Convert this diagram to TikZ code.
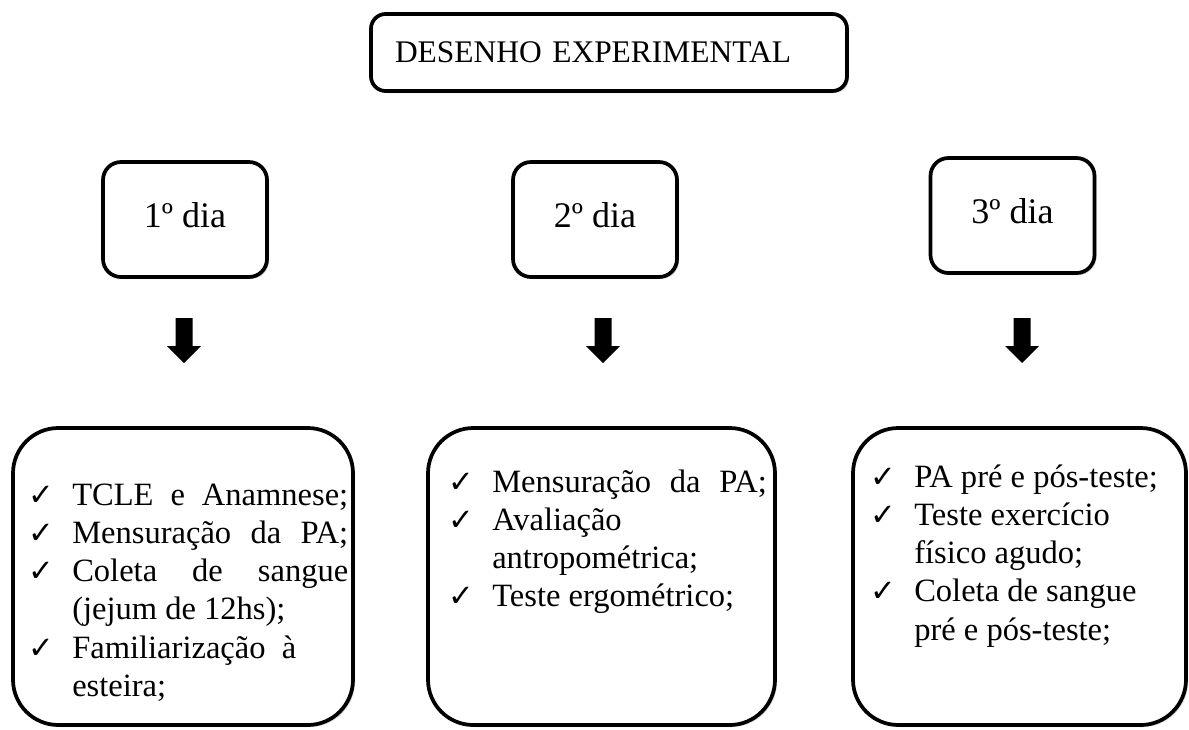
\documentclass[tikz,border=0pt]{standalone}
\usepackage{fontspec}
\setmainfont{Liberation Serif}
\newfontfamily\chkfont{DejaVu Sans}
\usetikzlibrary{shadows}
\newcommand{\chkmk}{\makebox[33pt][l]{\chkfont\fontsize{23}{23}\selectfont ✓}}
\newcommand{\itm}[1]{\chkmk#1}
\newcommand{\cnt}[1]{\hspace*{33pt}#1}
\newcommand{\strch}[2]{\makebox[#1][s]{#2}}
\tikzset{
  boxbase/.style={draw=black, line width=2.8pt, fill=white,
    drop shadow={shadow xshift=1.5pt, shadow yshift=-1.5pt, fill=black!35, opacity=0.45}},
  titlebox/.style={boxbase, rounded corners=11pt, minimum height=57.75pt,
    text width=321pt, inner xsep=18pt, align=left,
    font=\fontsize{23.6}{28}\selectfont},
  daybox/.style={boxbase, rounded corners=13.5pt, minimum width=123pt, minimum height=86.25pt,
    text height=20pt, text depth=8.5pt, font=\fontsize{27}{32}\selectfont},
  bigbox/.style={boxbase, rounded corners=34pt, minimum height=222.75pt},
  listtxt/.style={inner sep=0pt, anchor=base west, font=\fontsize{24.4}{28.7}\selectfont},
  fatarrow/.style={fill=black}
}
\begin{document}
\begin{tikzpicture}[x=0.75pt,y=-0.75pt]
\useasboundingbox (0,0) rectangle (1189,729);
% title
\node[titlebox] (title) at (609,52.5) {DESENHO EXPERIMENTAL};
% day boxes
\node[daybox] (d1) at (185,219.5) {1º dia};
\node[daybox] (d2) at (595,219.5) {2º dia};
\node[daybox] (d3) at (1012.5,215.5) {3º dia};
% big boxes
\node[bigbox, minimum width=255pt] (b1) at (183,576.5) {};
\node[bigbox, minimum width=260.25pt] (b2) at (601.5,576.5) {};
\node[bigbox, minimum width=249.75pt] (b3) at (1019.5,576.5) {};
% lists
\node[listtxt] (t1) at (28,505) {\begin{tabular}[t]{@{}l@{}}
\itm{\strch{207pt}{TCLE e Anamnese;}}\\
\itm{\strch{207pt}{Mensuração da PA;}}\\
\itm{\strch{207pt}{Coleta de sangue}}\\
\cnt{(jejum de 12hs);}\\
\itm{Familiarização \ à}\\
\cnt{esteira;}
\end{tabular}};
\node[listtxt] (t2) at (448,492) {\begin{tabular}[t]{@{}l@{}}
\itm{\strch{206pt}{Mensuração da PA;}}\\
\itm{Avaliação}\\
\cnt{antropométrica;}\\
\itm{Teste ergométrico;}
\end{tabular}};
\node[listtxt] (t3) at (870,487) {\begin{tabular}[t]{@{}l@{}}
\itm{PA pré e pós-teste;}\\
\itm{Teste exercício}\\
\cnt{físico agudo;}\\
\itm{Coleta de sangue}\\
\cnt{pré e pós-teste;}
\end{tabular}};
% arrows
\coordinate (a1) at (184,318);
\coordinate (a2) at (603,318);
\coordinate (a3) at (1022,318);
\foreach \a in {a1,a2,a3}{
  \fill[fatarrow] (\a) ++(-8.5,0) -- ++(17,0) -- ++(0,28) -- ++(8.5,0) -- ++(-17,17) -- ++(-17,-17) -- ++(8.5,0) -- cycle;
}
\end{tikzpicture}
\end{document}
